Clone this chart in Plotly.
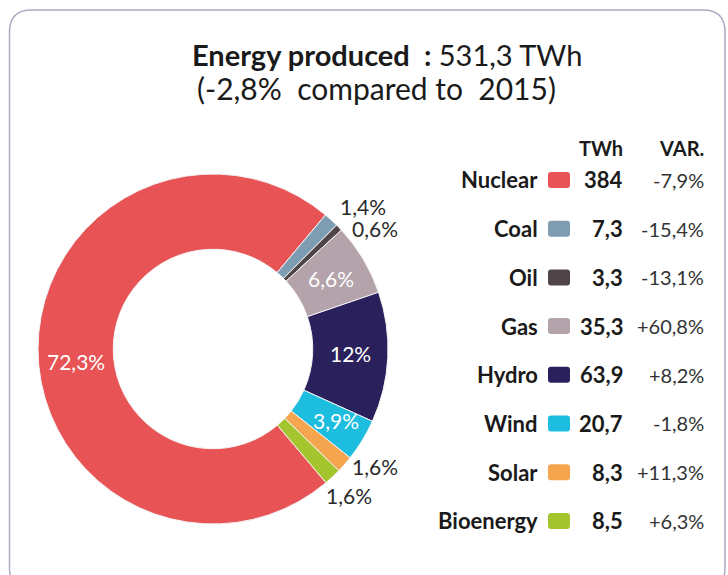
import math
import plotly.graph_objects as go

# ---------------- data ----------------
sources = ["Nuclear", "Coal", "Oil", "Gas", "Hydro", "Wind", "Solar", "Bioenergy"]
twh = [384, 7.3, 3.3, 35.3, 63.9, 20.7, 8.3, 8.5]
twh_labels = ["384", "7,3", "3,3", "35,3", "63,9", "20,7", "8,3", "8,5"]
var_labels = ["-7,9%", "-15,4%", "-13,1%", "+60,8%", "+8,2%", "-1,8%", "+11,3%", "+6,3%"]
pct_labels = ["72,3%", "1,4%", "0,6%", "6,6%", "12%", "3,9%", "1,6%", "1,6%"]
colors = ["#E85356", "#7E9DB2", "#4F4548", "#B4A3AA", "#2A215C", "#1DBDE0", "#F6A54F", "#A5C52E"]
inside = [True, False, False, True, True, True, False, False]
# small nudges (px) for the labels so they don't collide
label_shift = [(0, -12), (0, 6), (4, -8), (0, 0), (0, 2), (6, 0), (-2, 4), (-15, -11)]

W, H = 728, 575
FONT = "Lato"


def px(x):
    return x / W


def py(y):
    return 1 - y / H


fig = go.Figure()

# donut centre (213, 349) px, outer radius 175 px
cx, cy, r = 213, 349, 175
hole = 0.57
rotation = 139.8
fig.add_trace(go.Pie(
    labels=sources,
    values=twh,
    textinfo="none",
    hole=hole,
    sort=False,
    direction="clockwise",
    rotation=rotation,
    marker=dict(colors=colors, line=dict(color="#F4F4F4", width=1)),
    domain=dict(x=[px(cx - r), px(cx + r)], y=[py(cy + r), py(cy - r)]),
    showlegend=False,
    hoverinfo="label+value+percent",
))

annotations = []

# slice labels, placed from the cumulative values (same geometry as the pie)
total = sum(twh)
cum = 0.0
for i, v in enumerate(twh):
    mid = rotation + (cum + v / 2) / total * 360
    cum += v
    a = math.radians(mid)
    dx, dy = label_shift[i]
    if inside[i]:
        rr = r * (1 + hole) / 2
        x = cx + rr * math.sin(a)
        y = cy - rr * math.cos(a)
        annotations.append(dict(x=px(x), y=py(y), xref="paper", yref="paper",
                                xanchor="center", yanchor="middle", text=pct_labels[i],
                                showarrow=False, xshift=dx, yshift=dy,
                                font=dict(family=FONT, size=21, color="#FFFFFF")))
    else:
        rr = r + 10
        x = cx + rr * math.sin(a)
        y = cy - rr * math.cos(a)
        annotations.append(dict(x=px(x), y=py(y), xref="paper", yref="paper",
                                xanchor="left", yanchor="middle", text=pct_labels[i],
                                showarrow=False, xshift=dx, yshift=dy,
                                font=dict(family=FONT, size=21, color="#2b2b2b")))

# title
annotations.append(dict(
    x=px(387), y=py(54), xref="paper", yref="paper", xanchor="center", yanchor="middle",
    text="<b>Energy produced  :</b> 531,3 TWh", showarrow=False,
    font=dict(family=FONT, size=29, color="#1a1a1a")))
annotations.append(dict(
    x=px(376), y=py(88), xref="paper", yref="paper", xanchor="center", yanchor="middle",
    text="(-2,8%  compared to  2015)", showarrow=False,
    font=dict(family=FONT, size=30, color="#1a1a1a")))

# table header
name_x, sw_x0, sw_x1, val_x, var_x = 539.5, 548, 570, 625, 706
header_y = 148
annotations.append(dict(x=px(val_x), y=py(header_y), xref="paper", yref="paper",
                        xanchor="right", yanchor="middle", text="<b>TWh</b>", showarrow=False,
                        font=dict(family=FONT, size=20, color="#1a1a1a")))
annotations.append(dict(x=px(var_x), y=py(header_y), xref="paper", yref="paper",
                        xanchor="right", yanchor="middle", text="<b>VAR.</b>", showarrow=False,
                        font=dict(family=FONT, size=20, color="#1a1a1a")))

shapes = []
row0, step = 180, 48.7


def rounded_path(x0, y0, x1, y1, rad):
    rx, ry = rad / W, rad / H
    X0, X1 = px(x0), px(x1)
    Y0, Y1 = py(y0), py(y1)  # Y0 top, Y1 bottom
    return (f"M {X0+rx},{Y0} L {X1-rx},{Y0} Q {X1},{Y0} {X1},{Y0-ry} "
            f"L {X1},{Y1+ry} Q {X1},{Y1} {X1-rx},{Y1} L {X0+rx},{Y1} "
            f"Q {X0},{Y1} {X0},{Y1+ry} L {X0},{Y0-ry} Q {X0},{Y0} {X0+rx},{Y0} Z")


for i, name in enumerate(sources):
    yy = row0 + i * step
    annotations.append(dict(x=px(name_x), y=py(yy), xref="paper", yref="paper",
                            xanchor="right", yanchor="middle", text=f"<b>{name}</b>",
                            showarrow=False, font=dict(family=FONT, size=22, color="#1a1a1a")))
    annotations.append(dict(x=px(val_x), y=py(yy), xref="paper", yref="paper",
                            xanchor="right", yanchor="middle", text=f"<b>{twh_labels[i]}</b>",
                            showarrow=False, font=dict(family=FONT, size=22, color="#1a1a1a")))
    annotations.append(dict(x=px(var_x), y=py(yy), xref="paper", yref="paper",
                            xanchor="right", yanchor="middle", text=var_labels[i],
                            showarrow=False, font=dict(family=FONT, size=20, color="#333333")))
    shapes.append(dict(type="path", xref="paper", yref="paper",
                       path=rounded_path(sw_x0, yy - 8, sw_x1, yy + 8, 3),
                       fillcolor=colors[i], line=dict(width=0)))

# rounded frame
shapes.append(dict(type="path", xref="paper", yref="paper",
                   path=rounded_path(9.5, 10, 725, 590, 22),
                   fillcolor="rgba(0,0,0,0)", line=dict(color="#ABABC4", width=1.5)))

fig.update_layout(
    width=W, height=H,
    margin=dict(l=0, r=0, t=0, b=0),
    paper_bgcolor="white",
    plot_bgcolor="white",
    annotations=annotations,
    shapes=shapes,
    font=dict(family=FONT),
)

fig.write_html("out.html", config={"displayModeBar": False},
               post_script="document.body.style.margin='0';")
